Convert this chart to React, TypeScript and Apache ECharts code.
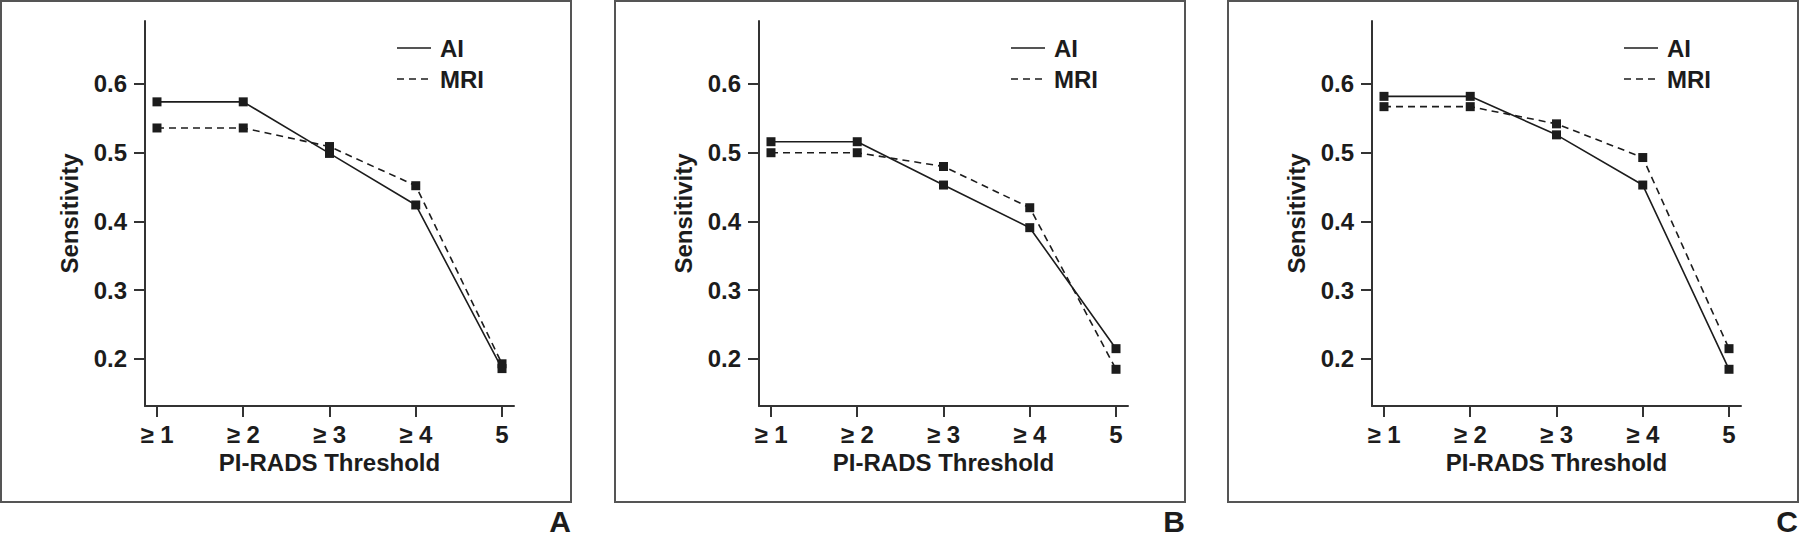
import React, { useEffect, useRef } from "react";
import * as echarts from "echarts";

const categories = ["≥ 1", "≥ 2", "≥ 3", "≥ 4", "5"];
const yTicks = [0.2, 0.3, 0.4, 0.5, 0.6];
const seriesNames = ["AI", "MRI"];
const panelLabels = ["A", "B", "C"];

const aiA = [0.574, 0.574, 0.499, 0.424, 0.186];
const mriA = [0.536, 0.536, 0.509, 0.452, 0.193];
const aiB = [0.516, 0.516, 0.453, 0.391, 0.215];
const mriB = [0.5, 0.5, 0.48, 0.42, 0.185];
const aiC = [0.582, 0.582, 0.526, 0.453, 0.185];
const mriC = [0.567, 0.567, 0.542, 0.493, 0.215];

const panelData = [
  [aiA, mriA],
  [aiB, mriB],
  [aiC, mriC],
];

const FONT = '"Liberation Sans", Arial, Helvetica, sans-serif';
const INK = "#1c1c1c";

export default function App() {
  const ref = useRef<HTMLDivElement>(null);
  useEffect(() => {
    document.body.style.margin = "0";
    const chart = echarts.init(ref.current!, null, { renderer: "svg" });
    const offsets = [0, 614, 1227];
    const grids: any[] = [];
    const xAxes: any[] = [];
    const yAxes: any[] = [];
    const series: any[] = [];
    const graphic: any[] = [];
    panelData.forEach((pair, p) => {
      const off = offsets[p];
      grids.push({ left: 145 + off, top: 21, width: 369, height: 385 });
      xAxes.push({
        type: "value",
        gridIndex: p,
        min: 0.861,
        max: 5.139,
        name: "PI-RADS Threshold",
        nameLocation: "middle",
        nameGap: 41,
        nameTextStyle: { fontFamily: FONT, fontWeight: "bold", fontSize: 24, color: INK },
        axisLine: { show: true, lineStyle: { color: "#333", width: 2 } },
        axisTick: { show: true, length: 11, lineStyle: { color: "#333", width: 2 }, customValues: [1, 2, 3, 4, 5] },
        axisLabel: {
          customValues: [1, 2, 3, 4, 5],
          formatter: (v: number) => categories[Math.round(v) - 1],
          fontFamily: FONT,
          fontWeight: "bold",
          fontSize: 24,
          color: INK,
          margin: 16,
        },
        splitLine: { show: false },
      });
      yAxes.push({
        type: "value",
        gridIndex: p,
        min: 0.1316,
        max: 0.6916,
        name: "Sensitivity",
        nameLocation: "middle",
        nameGap: 64,
        nameTextStyle: { fontFamily: FONT, fontWeight: "bold", fontSize: 24, color: INK },
        axisLine: { show: true, lineStyle: { color: "#333", width: 2 } },
        axisTick: { show: true, length: 11, lineStyle: { color: "#333", width: 2 }, customValues: yTicks },
        axisLabel: {
          customValues: yTicks,
          formatter: (v: number) => v.toFixed(1),
          fontFamily: FONT,
          fontWeight: "bold",
          fontSize: 24,
          color: INK,
          margin: 18,
        },
        splitLine: { show: false },
      });
      pair.forEach((vals, s) => {
        series.push({
          type: "line",
          name: seriesNames[s],
          xAxisIndex: p,
          yAxisIndex: p,
          data: vals.map((v, i) => [i + 1, v]),
          symbol: "rect",
          symbolSize: 9,
          itemStyle: { color: INK },
          lineStyle: { color: INK, width: 1.6, type: s === 0 ? "solid" : [7, 5] },
          clip: false,
        });
      });
      // panel border
      graphic.push({
        type: "rect",
        shape: { x: 1 + off, y: 1, width: 570, height: 501 },
        style: { fill: "none", stroke: "#555", lineWidth: 2 },
      });
      // panel label
      graphic.push({
        type: "text",
        x: 571 + off,
        y: 536,
        style: {
          text: panelLabels[p],
          font: `bold 30px ${FONT}`,
          fill: INK,
          align: "right",
          verticalAlign: "bottom",
        },
      });
      // legend
      seriesNames.forEach((nm, s) => {
        const yy = s === 0 ? 48 : 79;
        graphic.push({
          type: "line",
          shape: { x1: 397 + off, y1: yy, x2: 431 + off, y2: yy },
          style: { stroke: INK, lineWidth: 1.6, lineDash: s === 0 ? null : [7, 5] },
        });
        graphic.push({
          type: "text",
          x: 440 + off,
          y: yy,
          style: {
            text: nm,
            font: `bold 24px ${FONT}`,
            fill: INK,
            align: "left",
            verticalAlign: "middle",
          },
        });
      });
    });
    chart.setOption({
      animation: false,
      backgroundColor: "#fff",
      grid: grids,
      xAxis: xAxes,
      yAxis: yAxes,
      series,
      graphic,
    });
    return () => chart.dispose();
  }, []);
  return <div ref={ref} style={{ width: 1800, height: 536 }} />;
}
